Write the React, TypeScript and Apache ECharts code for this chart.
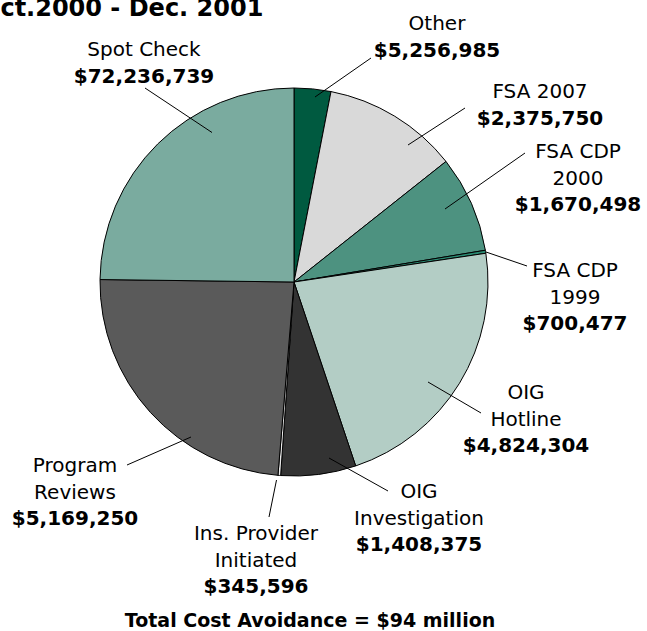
import React, { useEffect, useRef } from 'react';
import * as echarts from 'echarts';

// Slices, clockwise from 12 o'clock
const categories = [
  'Other', 'FSA 2007', 'FSA CDP 2000', 'FSA CDP 1999', 'OIG Hotline',
  'OIG Investigation', 'Ins. Provider Initiated', 'Program Reviews', 'Spot Check',
];
const labelNameLines = [
  ['Other'], ['FSA 2007'], ['FSA CDP', '2000'], ['FSA CDP', '1999'], ['OIG', 'Hotline'],
  ['OIG', 'Investigation'], ['Ins. Provider', 'Initiated'], ['Program', 'Reviews'], ['Spot Check'],
];
const amounts = [
  '$5,256,985', '$2,375,750', '$1,670,498', '$700,477', '$4,824,304',
  '$1,408,375', '$345,596', '$5,169,250', '$72,236,739',
];
// Visual share of each slice as drawn (degrees of arc)
const sliceDegrees = [11, 40.6, 29, 0.9, 80, 22.5, 0.8, 86, 89.3];
const sliceColors = [
  '#005a40', '#d9d9d9', '#4d9280', '#2a8a72', '#b3cdc5',
  '#333333', '#e8e8e8', '#5a5a5a', '#7aab9f',
];

const titleText = 'Oct.2000 - Dec. 2001';
const totalText = 'Total Cost Avoidance = $94 million';

// label placement (center x, first baseline) and leader lines
const labelAnchor = [
  [437, 30], [540, 98], [578, 158], [575, 277], [526, 399],
  [419, 498], [256, 540], [75, 472], [144, 56],
];
const leaderLines = [
  [[315, 97], [371, 58]],
  [[408, 145], [465, 108]],
  [[445, 209], [525, 153]],
  [[486, 252], [527, 266]],
  [[428, 382], [481, 413]],
  [[329, 458], [388, 491]],
  [[276.5, 480], [269, 517]],
  [[191, 437], [127, 465]],
  [[212, 132.5], [145, 88]],
];

export default function App() {
  const ref = useRef<HTMLDivElement>(null);
  useEffect(() => {
    const chart = echarts.init(ref.current!, null, { renderer: 'svg' });
    const FS = 20;
    const LH = 26.5;
    const FONT = '"DejaVu Sans", Verdana, sans-serif';
    const option = {
      animation: false,
      graphic: [
        {
          type: 'text', x: -20, y: 7.6,
          style: { text: titleText, fontSize: 24, fontWeight: 'bold', fontFamily: FONT, fill: '#000', align: 'left', verticalAlign: 'middle' },
        },
        {
          type: 'text', x: 310, y: 619.5,
          style: { text: totalText, fontSize: 19, fontWeight: 'bold', fontFamily: FONT, fill: '#000', align: 'center', verticalAlign: 'middle' },
        },
        ...leaderLines.map((pts) => ({
          type: 'line',
          z: 100,
          silent: true,
          shape: { x1: pts[0][0], y1: pts[0][1], x2: pts[1][0], y2: pts[1][1] },
          style: { stroke: '#000', lineWidth: 1 },
        })),
      ],
      series: [
        {
          type: 'pie',
          center: [294, 282],
          radius: 194,
          startAngle: 90,
          clockwise: true,
          avoidLabelOverlap: false,
          itemStyle: { borderColor: '#000', borderWidth: 1 },
          emphasis: { disabled: true },
          label: {
            show: true,
            position: 'outside',
            formatter: (p: any) => {
              const i = p.dataIndex;
              return labelNameLines[i].map((s) => `{n|${s}}`).join('\n') + `\n{v|${amounts[i]}}`;
            },
            rich: {
              n: { fontSize: FS, fontFamily: FONT, color: '#000', lineHeight: LH, align: 'center' },
              v: { fontSize: FS, fontFamily: FONT, fontWeight: 'bold', color: '#000', lineHeight: LH, align: 'center' },
            },
          },
          labelLine: { show: false },
          labelLayout: (params: any) => {
            const i = params.dataIndex;
            return {
              x: labelAnchor[i][0],
              y: labelAnchor[i][1] - 6.9 - LH / 2,
              align: 'center',
              verticalAlign: 'top',
            };
          },
          data: categories.map((name, i) => ({
            name,
            value: sliceDegrees[i],
            itemStyle: { color: sliceColors[i] },
          })),
        },
      ],
    };
    chart.setOption(option as any);
    return () => chart.dispose();
  }, []);
  return (
    <div
      ref={ref}
      style={{ position: 'fixed', left: 0, top: 0, width: 647, height: 631, background: '#fff' }}
    />
  );
}
